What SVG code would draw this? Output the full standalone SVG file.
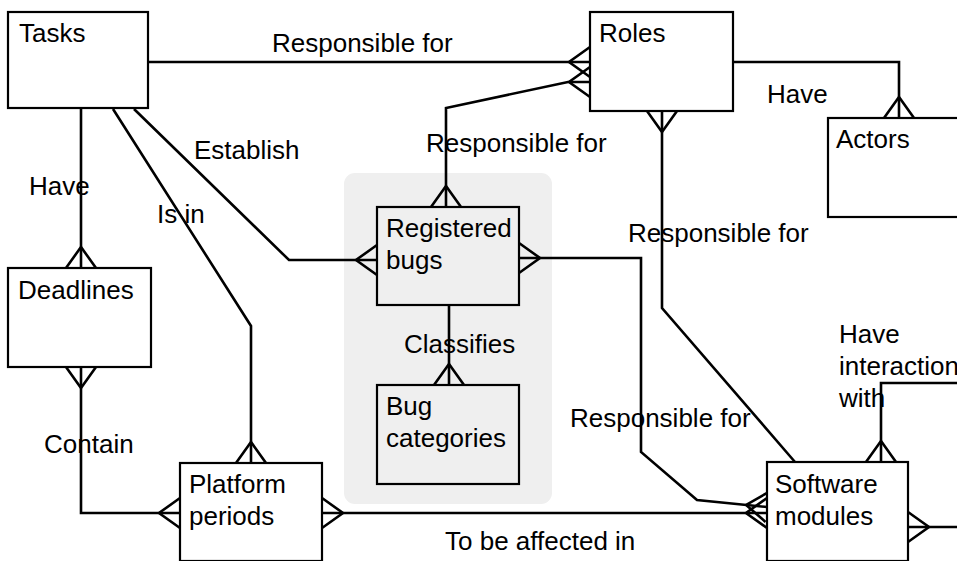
<svg xmlns="http://www.w3.org/2000/svg" width="957" height="561" viewBox="0 0 957 561">
  <style>
    text { font-family: "Liberation Sans", Arial, sans-serif; font-size: 26px; fill: #000; }
    .box { fill: #fff; stroke: #000; stroke-width: 2.2; }
    .inner { fill: #efefef; stroke: #000; stroke-width: 2.2; }
    .link { fill: none; stroke: #000; stroke-width: 2.6; stroke-linejoin: miter; }
    .many { marker-end: url(#many); }
    .many2 { marker-start: url(#many); marker-end: url(#many); }
  </style>
  <defs>
    <!-- crow's foot ("many") end, drawn back from the entity edge -->
    <marker id="many" viewBox="-24 -18 26 36" markerWidth="26" markerHeight="36" refX="0" refY="0"
            orient="auto-start-reverse" markerUnits="userSpaceOnUse" overflow="visible">
      <path d="M0,-15 L-21,0 L0,15" fill="none" stroke="#000" stroke-width="2.6"/>
    </marker>
  </defs>

  <!-- bug tracking package -->
  <rect id="bug-package" x="344" y="173" width="208" height="331" rx="11" fill="#efefef"/>

  <!-- connectors -->
  <g id="connectors">
    <path class="link many" d="M149,62 H590"/>
    <path class="link many2" d="M446,207 V108 L568,82 H590"/>
    <path class="link many" d="M733,62 H899 V118"/>
    <path class="link" style="marker-start:url(#many)" d="M662,111 V308 L795,462"/>
    <path class="link many" d="M81,109 V268"/>
    <path class="link many" d="M113,109 L251,326 V463"/>
    <path class="link many" d="M134,109 L289,260 H377"/>
    <path class="link many2" d="M81,367 V513 H180"/>
    <path class="link many" d="M449,305 V385"/>
    <path class="link many2" d="M519,258 H641 V452 L697,500 L767,507"/>
    <path class="link many2" d="M322,513 H767"/>
    <path class="link many2" d="M881,462 V383 H975 V527 H908"/>
  </g>

  <!-- entities -->
  <g id="tasks">
    <rect class="box" x="8" y="12" width="140" height="96"/>
    <text x="19" y="42">Tasks</text>
  </g>
  <g id="roles">
    <rect class="box" x="590" y="12" width="143" height="99"/>
    <text x="599" y="42">Roles</text>
  </g>
  <g id="actors">
    <rect class="box" x="828" y="118" width="140" height="99"/>
    <text x="836" y="148">Actors</text>
  </g>
  <g id="deadlines">
    <rect class="box" x="8" y="268" width="143" height="99"/>
    <text x="18" y="299">Deadlines</text>
  </g>
  <g id="registered-bugs">
    <rect class="inner" x="377" y="207" width="142" height="98"/>
    <text x="386" y="237">Registered</text>
    <text x="386" y="269">bugs</text>
  </g>
  <g id="bug-categories">
    <rect class="inner" x="377" y="385" width="142" height="99"/>
    <text x="386" y="415">Bug</text>
    <text x="386" y="447">categories</text>
  </g>
  <g id="platform-periods">
    <rect class="box" x="180" y="463" width="142" height="98"/>
    <text x="189" y="493">Platform</text>
    <text x="189" y="525">periods</text>
  </g>
  <g id="software-modules">
    <rect class="box" x="767" y="462" width="141" height="99"/>
    <text x="775" y="493">Software</text>
    <text x="775" y="525">modules</text>
  </g>

  <!-- relationship labels -->
  <g id="labels">
    <text x="272" y="52">Responsible for</text>
    <text x="426" y="152">Responsible for</text>
    <text x="767" y="103">Have</text>
    <text x="628" y="242">Responsible for</text>
    <text x="29" y="195">Have</text>
    <text x="157" y="223">Is in</text>
    <text x="194" y="159">Establish</text>
    <text x="44" y="453">Contain</text>
    <text x="404" y="353">Classifies</text>
    <text x="570" y="427">Responsible for</text>
    <text x="445" y="550">To be affected in</text>
    <text x="839" y="343">Have</text>
    <text x="839" y="375">interaction</text>
    <text x="839" y="407">with</text>
  </g>
</svg>
